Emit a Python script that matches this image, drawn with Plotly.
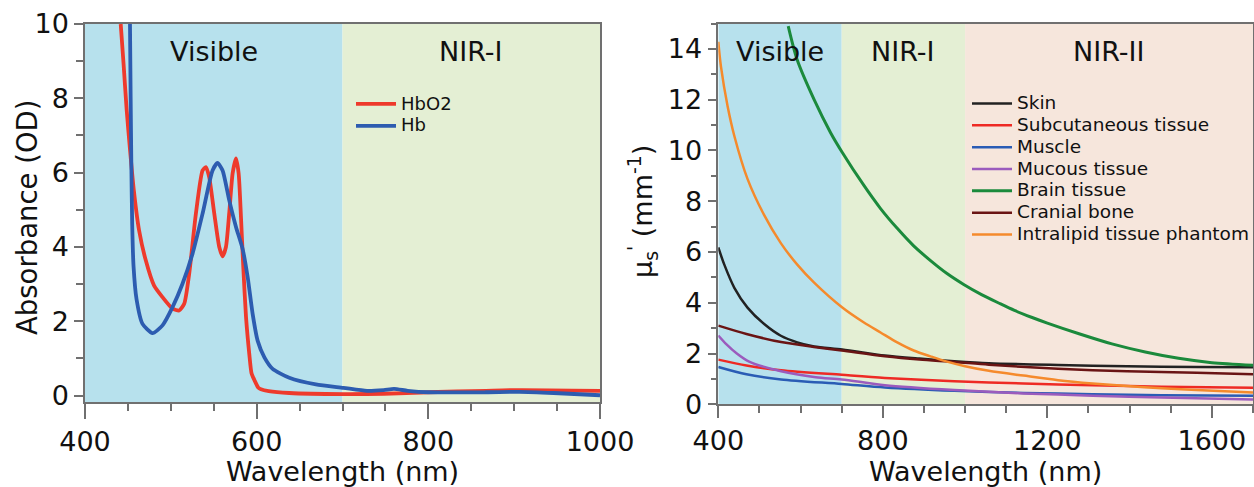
import plotly.graph_objects as go

# ---------------- Left panel data (absorbance) ----------------
hbo2_wl = [441.6, 445, 448.5, 452.5, 457, 463, 470.8, 480.5, 490.3, 502, 509.7, 515.6,
           521.4, 529.2, 537, 540.9, 544.7, 550.6, 556.4, 560.3, 564.2, 568, 572, 575.9, 579,
           581.7, 584.4, 587.6, 591.4, 594, 597.3, 602, 605, 614, 638, 701, 748, 800, 867, 906, 1000]
hbo2_abs = [10.0, 8.9, 7.7, 6.6, 5.5, 4.45, 3.64, 2.96, 2.65, 2.34, 2.29, 2.47,
            3.28, 4.9, 6.06, 6.15, 5.88, 4.9, 4.0, 3.75, 4.0, 4.9, 5.98, 6.38, 5.98,
            4.81, 3.46, 2.11, 1.12, 0.6, 0.42, 0.21, 0.17, 0.12, 0.07, 0.04, 0.05, 0.09, 0.13, 0.15, 0.13]

hb_wl = [452.4, 453.2, 454, 455, 456.5, 460, 467, 478.6, 490.3, 502, 513.6, 525.3,
         537, 548.6, 554.4, 560.3, 568, 575.9, 583.6, 589.5, 595.3, 601.1, 609, 618.6,
         638, 669, 701, 728.6, 748, 760, 776, 800, 867, 906, 946, 1000]
hb_abs = [10.0, 8.0, 6.2, 4.6, 3.5, 2.6, 1.93, 1.68, 1.89, 2.38, 3.01, 3.82,
          4.9, 6.06, 6.26, 6.06, 5.26, 4.54, 3.95, 3.19, 2.2, 1.48, 1.03, 0.72,
          0.48, 0.30, 0.21, 0.13, 0.15, 0.18, 0.13, 0.09, 0.09, 0.10, 0.07, 0.01]

# ---------------- Right panel data (reduced scattering) ----------------
skin_wl = [400, 414.6, 439, 471, 511.6, 552, 592, 633, 701.5, 805, 889, 973.6, 1057.7, 1226, 1394, 1563, 1700]
skin_mu = [6.18, 5.5, 4.59, 3.81, 3.16, 2.7, 2.44, 2.28, 2.16, 1.92, 1.8, 1.7, 1.62, 1.55, 1.5, 1.47, 1.46]

subcut_wl = [400, 468.5, 552.7, 700, 805, 973.6, 1142, 1310, 1478, 1700]
subcut_mu = [1.76, 1.53, 1.34, 1.16, 1.04, 0.91, 0.82, 0.75, 0.69, 0.65]

muscle_wl = [400, 468.5, 552.7, 700, 805, 973.6, 1142, 1310, 1478, 1700]
muscle_mu = [1.47, 1.18, 0.98, 0.8, 0.66, 0.53, 0.45, 0.40, 0.36, 0.34]

mucous_wl = [400, 420, 445, 475, 552.7, 637, 700, 805, 973.6, 1142, 1310, 1478, 1700]
mucous_mu = [2.71, 2.36, 2.0, 1.68, 1.3, 1.07, 0.98, 0.75, 0.56, 0.43, 0.34, 0.27, 0.19]

brain_wl = [570, 592, 633, 673, 701.5, 754, 794.5, 835, 875, 916, 956, 996.6, 1040,
            1083, 1120, 1163, 1200, 1277, 1357, 1438, 1519, 1600, 1700]
brain_mu = [14.9, 13.56, 12.0, 10.7, 9.92, 8.62, 7.71, 6.93, 6.24, 5.66, 5.15, 4.72, 4.32,
            3.98, 3.7, 3.42, 3.2, 2.78, 2.38, 2.06, 1.81, 1.64, 1.54]

cranial_wl = [400, 468.5, 552.7, 637, 700, 805, 889, 973.6, 1057.7, 1226, 1394, 1563, 1700]
cranial_mu = [3.1, 2.77, 2.45, 2.25, 2.12, 1.89, 1.76, 1.67, 1.56, 1.4, 1.3, 1.24, 1.18]

lipid_wl = [400, 406.5, 422.6, 439, 471, 511.6, 552, 592, 633, 701.5, 754, 794.5, 835, 875,
            916, 956, 1000, 1057.7, 1142, 1226, 1310, 1394, 1478, 1563, 1700]
lipid_mu = [14.28, 13.3, 11.74, 10.57, 8.88, 7.45, 6.35, 5.5, 4.79, 3.81, 3.22, 2.83, 2.44, 2.12,
            1.89, 1.68, 1.5, 1.32, 1.13, 0.95, 0.82, 0.72, 0.63, 0.56, 0.46]

# ---------------- Ticks ----------------
left_x_labels = [400, 600, 800, 1000]
left_x_long = [500, 700, 900]
right_x_labels = [400, 800, 1200, 1600]
right_x_long = [600, 1000, 1400]

# ---------------- Regions ----------------
left_regions = [("Visible", 400, 700, "#b7e1ed"), ("NIR-I", 700, 1000, "#e4efd4")]
right_regions = [("Visible", 400, 700, "#b7e1ed"), ("NIR-I", 700, 1000, "#e4efd4"),
                 ("NIR-II", 1000, 1700, "#f6e6dc")]

FONT = "DejaVu Sans"
fig = go.Figure()

fig.add_trace(go.Scatter(x=hbo2_wl, y=hbo2_abs, name='<span style="font-size:18px">HbO2</span>',
                         mode="lines",
                         line=dict(color="#ee3a2c", width=3.8, shape="spline", smoothing=0.6),
                         xaxis="x", yaxis="y", legend="legend"))
fig.add_trace(go.Scatter(x=hb_wl, y=hb_abs, name='<span style="font-size:18px">Hb</span>',
                         mode="lines",
                         line=dict(color="#2d5cb0", width=3.8, shape="spline", smoothing=0.6),
                         xaxis="x", yaxis="y", legend="legend"))

right_series = [
    ("Skin", skin_wl, skin_mu, "#222222", 2.5),
    ("Subcutaneous tissue", subcut_wl, subcut_mu, "#ee2a24", 2.5),
    ("Muscle", muscle_wl, muscle_mu, "#2a5cb5", 2.5),
    ("Mucous tissue", mucous_wl, mucous_mu, "#9b5bbd", 2.5),
    ("Brain tissue", brain_wl, brain_mu, "#1b8a3c", 3),
    ("Cranial bone", cranial_wl, cranial_mu, "#6a1414", 2.5),
    ("Intralipid tissue phantom", lipid_wl, lipid_mu, "#f58a2c", 2.5),
]
for name, xs, ys, col, w in right_series:
    fig.add_trace(go.Scatter(x=xs, y=ys, name='<span style="font-size:18.5px">' + name + '</span>',
                             mode="lines",
                             line=dict(color=col, width=w, shape="spline", smoothing=0.8),
                             xaxis="x2", yaxis="y2", legend="legend2"))

shapes = []
annotations = []
REG_Y = 1 - 51 / 487
for label, a, b, col in left_regions:
    shapes.append(dict(type="rect", xref="x", yref="y domain", x0=a, x1=b, y0=0, y1=1,
                       fillcolor=col, line=dict(width=0), layer="below"))
    annotations.append(dict(x=(a + b) / 2, y=REG_Y, xref="x", yref="paper", text=label,
                            xanchor="center", yanchor="middle",
                            showarrow=False, font=dict(family=FONT, size=27, color="#111")))
for label, a, b, col in right_regions:
    shapes.append(dict(type="rect", xref="x2", yref="y2 domain", x0=a, x1=b, y0=0, y1=1,
                       fillcolor=col, line=dict(width=0), layer="below"))
    annotations.append(dict(x=(a + b) / 2, y=REG_Y, xref="x2", yref="paper", text=label,
                            xanchor="center", yanchor="middle",
                            showarrow=False, font=dict(family=FONT, size=27, color="#111")))

# y-axis titles placed as rotated text
annotations.append(dict(x=27 / 1254, y=1 - 217 / 487, xref="paper", yref="paper",
                        text="Absorbance (OD)", textangle=-90, showarrow=False,
                        xanchor="center", yanchor="middle",
                        font=dict(family=FONT, size=27.5, color="#111")))
annotations.append(dict(x=642 / 1254, y=1 - 212 / 487, xref="paper", yref="paper",
                        text="μ<sub>s</sub><sup>'</sup> (mm<sup>-1</sup>)", textangle=-90,
                        showarrow=False, xanchor="center", yanchor="middle",
                        font=dict(family=FONT, size=27, color="#111")))

axcol = "#707070"
tickfont = dict(family=FONT, size=27, color="#111")
titlefont = dict(family=FONT, size=27, color="#111")

common = dict(showgrid=False, zeroline=False, showline=True, linecolor=axcol, linewidth=1.5,
              mirror=True, ticks="outside", tickcolor=axcol, tickwidth=1.5, tickfont=tickfont)

LX = [85 / 1254, 600 / 1254]
RX = [718.3 / 1254, 1253 / 1254]

fig.update_layout(
    width=1254, height=487,
    margin=dict(l=0, r=0, t=0, b=0),
    paper_bgcolor="white", plot_bgcolor="white",
    showlegend=True,
    font=dict(family=FONT),
    xaxis=dict(domain=LX, range=[400, 1000], anchor="y",
               tickvals=left_x_labels, ticklen=15,
               minor=dict(dtick=50, ticklen=7, ticks="outside", tickcolor=axcol, tickwidth=1.5),
               title=dict(text="Wavelength (nm)", font=titlefont, standoff=2),
               automargin=False, **common),
    xaxis3=dict(domain=LX, range=[400, 1000], anchor="y", overlaying="x", side="bottom",
                tickvals=left_x_long, ticklen=15, ticks="outside", tickcolor=axcol, tickwidth=1.5,
                showticklabels=False, showline=False, showgrid=False, zeroline=False,
                automargin=False),
    yaxis=dict(domain=[1 - 402.3 / 487, 1 - 24 / 487], range=[-0.18, 10], anchor="x", dtick=2,
               ticklen=9,
               minor=dict(dtick=1, ticklen=7, ticks="outside", tickcolor=axcol, tickwidth=1.5),
               automargin=False, **common),
    xaxis2=dict(domain=RX, range=[400, 1700], anchor="y2",
                tickvals=right_x_labels, ticklen=12,
                minor=dict(dtick=100, ticklen=7, ticks="outside", tickcolor=axcol, tickwidth=1.5),
                title=dict(text="Wavelength (nm)", font=titlefont, standoff=2),
                automargin=False, **common),
    xaxis4=dict(domain=RX, range=[400, 1700], anchor="y2", overlaying="x2", side="bottom",
                tickvals=right_x_long, ticklen=12, ticks="outside", tickcolor=axcol, tickwidth=1.5,
                showticklabels=False, showline=False, showgrid=False, zeroline=False,
                automargin=False),
    yaxis2=dict(domain=[1 - 404.3 / 487, 1 - 23.5 / 487], range=[0, 15], anchor="x2",
                tickvals=[0, 2, 4, 6, 8, 10, 12, 14], ticklen=9,
                minor=dict(dtick=1, ticklen=6, ticks="outside", tickcolor=axcol, tickwidth=1.5),
                automargin=False, **common),
    legend=dict(x=351 / 1254, y=1 - 88 / 487, xanchor="left", yanchor="top",
                bgcolor="rgba(0,0,0,0)", font=dict(family=FONT, size=14.5, color="#111"),
                tracegroupgap=0, itemwidth=40),
    legend2=dict(x=967 / 1254, y=1 - 87.5 / 487, xanchor="left", yanchor="top",
                 bgcolor="rgba(0,0,0,0)", font=dict(family=FONT, size=14.5, color="#111"),
                 tracegroupgap=0, itemwidth=40),
    shapes=shapes,
    annotations=annotations,
)

fig.write_html("out.html")
